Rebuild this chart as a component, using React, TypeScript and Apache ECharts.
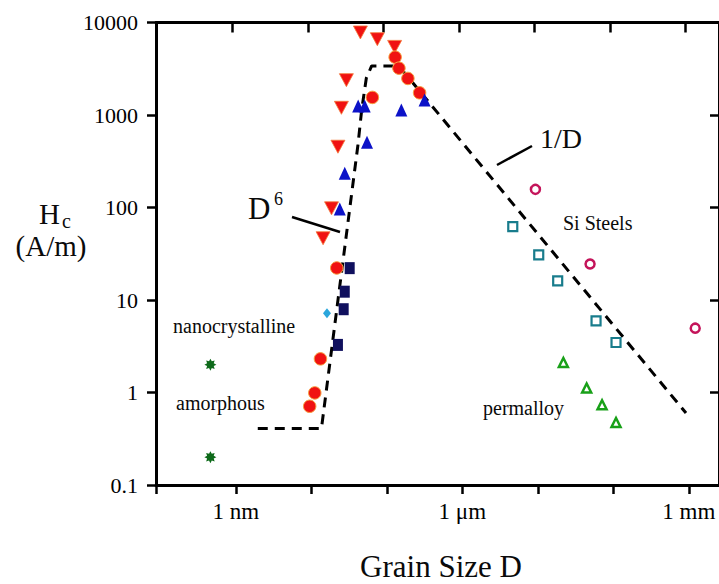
import React, { useEffect, useRef } from "react";
import * as echarts from "echarts";

// ---- axis settings (log10 of grain size in nm, log10 of Hc in A/m) ----
const X_MIN = -1.058;
const X_MAX = 6.4;
const X_TICKS = [0, 1, 2, 3, 4, 5, 6];
const X_LABEL_VALUES = [0, 3, 6];
const X_TICK_LABELS = ["1 nm", "1 \u03bcm", "1 mm"];
const Y_TICK_LABELS = ["0.1", "1", "10", "100", "1000", "10000"];

// ---- data (grain size in nm, Hc in A/m) ----
const dashX = [1.95, 13.6, 41.4, 46.4, 53.5, 62.9, 144.3, 918000];
const dashY = [0.408, 0.408, 474, 1132, 2512, 3390, 3390, 0.6];

const redTriX = [44.6, 74.8, 126.8, 29.1, 25.0, 22.5, 18.5, 14.3];
const redTriY = [7800, 6600, 5450, 2380, 1196, 454, 98, 46.5];

const redCircX = [64.3, 128.8, 144.5, 190, 271.5, 21.7, 13.2, 11.1, 9.5];
const redCircY = [1549, 4220, 3210, 2485, 1737, 22.2, 2.31, 0.99, 0.71];

const blueTriX = [41.7, 50.9, 155.6, 316, 54.6, 27.7, 23.8];
const blueTriY = [1250, 1250, 1130, 1449, 506, 234, 96.4];

const navySqX = [32.2, 27.7, 26.8, 22.5];
const navySqY = [22.1, 12.3, 7.95, 3.27];

const cyanDiaX = [16.1];
const cyanDiaY = [7.2];

const siSteelSqX = [4656, 10280, 18330, 59050, 108600];
const siSteelSqY = [62, 30.7, 16.1, 5.95, 3.47];

const siSteelCircX = [9290, 49200, 1216000];
const siSteelCircY = [157, 24.5, 4.96];

const permalloyX = [21800, 44350, 70950, 108600];
const permalloyY = [2.11, 1.12, 0.736, 0.474];

const amorphousX = [0.46, 0.46];
const amorphousY = [2.0, 0.2];

const FONT = "Liberation Serif";
const STAR =
  "path://M5,0L2.77,1.15L3.54,3.54L1.15,2.77L0,5L-1.15,2.77L-3.54,3.54L-2.77,1.15L-5,0L-2.77,-1.15L-3.54,-3.54L-1.15,-2.77L0,-5L1.15,-2.77L3.54,-3.54L2.77,-1.15Z";

const toPts = (xs: number[], ys: number[]) =>
  xs.map((x, i) => [Math.log10(x), Math.log10(ys[i])]);

const scatter = (data: number[][], symbol: string, size: any, itemStyle: any, extra: any = {}) => ({
  type: "scatter",
  data,
  symbol,
  symbolSize: size,
  itemStyle: { opacity: 1, ...itemStyle },
  xAxisIndex: 0,
  yAxisIndex: 0,
  ...extra,
});

const txt = (text: string, x: number, y: number, fontSize: number, align = "left") => ({
  type: "text",
  x,
  y,
  style: {
    text,
    fontSize,
    fontFamily: FONT,
    fill: "#0a0a0a",
    align,
    verticalAlign: "middle",
  },
});

export default function App() {
  const ref = useRef<HTMLDivElement>(null);
  useEffect(() => {
    if (!ref.current) return;
    const chart = echarts.init(ref.current, null, { renderer: "svg" });
    const axisLine = { show: true, onZero: false, lineStyle: { color: "#000", width: 3 } };
    const tickStyle = { color: "#000", width: 2.5 };
    const option: any = {
      animation: false,
      backgroundColor: "#fff",
      grid: { left: 156, top: 22.5, width: 564, height: 462.5, containLabel: false },
      xAxis: [
        {
          type: "value",
          position: "bottom",
          min: X_MIN,
          max: X_MAX,
          axisLine,
          axisTick: { show: true, length: 9, customValues: [X_MIN, ...X_TICKS], lineStyle: tickStyle },
          axisLabel: {
            customValues: X_LABEL_VALUES,
            formatter: (v: number) => X_TICK_LABELS[X_LABEL_VALUES.indexOf(Math.round(v))] ?? "",
            fontSize: 23,
            fontFamily: FONT,
            color: "#000",
            margin: 15,
          },
          splitLine: { show: false },
        },
        {
          type: "value",
          position: "top",
          min: X_MIN + 0.046,
          max: X_MAX + 0.046,
          axisLine,
          axisTick: { show: true, inside: true, length: 10, customValues: X_TICKS, lineStyle: tickStyle },
          axisLabel: { show: false },
          splitLine: { show: false },
        },
      ],
      yAxis: [
        {
          type: "value",
          position: "left",
          min: -1,
          max: 4,
          interval: 1,
          axisLine,
          axisTick: { show: true, length: 9, lineStyle: tickStyle },
          axisLabel: {
            formatter: (v: number) => Y_TICK_LABELS[Math.round(v) + 1] ?? "",
            fontSize: 22,
            fontFamily: FONT,
            color: "#000",
            margin: 18,
          },
          splitLine: { show: false },
        },
        {
          type: "value",
          position: "right",
          min: -1,
          max: 4,
          interval: 1,
          axisLine,
          axisTick: { show: true, inside: true, length: 9, lineStyle: tickStyle },
          axisLabel: { show: false },
          splitLine: { show: false },
        },
      ],
      series: [
        {
          type: "line",
          data: toPts(dashX, dashY),
          symbol: "none",
          lineStyle: { color: "#000", width: 3, type: [10, 7] },
          z: 1,
        },
        scatter(toPts(redTriX, redTriY), "triangle", [14, 13], { color: "#f01212", borderColor: "#f57a3a", borderWidth: 0.8 }, { symbolRotate: 180, z: 2 }),
        scatter(toPts(redCircX, redCircY), "circle", 12.5, { color: "#f01212", borderColor: "#f7a040", borderWidth: 1 }, { z: 3 }),
        scatter(toPts(blueTriX, blueTriY), "triangle", [12, 13], { color: "#0c12c8" }, { z: 4 }),
        scatter(toPts(navySqX, navySqY), "rect", [10, 12], { color: "#10105e" }, { z: 5 }),
        scatter(toPts(cyanDiaX, cyanDiaY), "diamond", [8, 10], { color: "#2aa6dc" }, { z: 5 }),
        scatter(toPts(siSteelSqX, siSteelSqY), "rect", 9, { color: "#fff", borderColor: "#187c8c", borderWidth: 2.2 }, { z: 5 }),
        scatter(toPts(siSteelCircX, siSteelCircY), "circle", 9, { color: "#fff", borderColor: "#c4145a", borderWidth: 2.5 }, { z: 5 }),
        scatter(toPts(permalloyX, permalloyY), "triangle", [9, 9], { color: "#fff", borderColor: "#18a018", borderWidth: 2.5 }, { z: 5 }),
        scatter(toPts(amorphousX, amorphousY), STAR, 12, { color: "#0e6a1a" }, { z: 5 }),
      ],
      graphic: [
        txt("H", 39, 214, 29),
        txt("c", 62, 221, 20),
        txt("(A/m)", 51, 246, 29, "center"),
        txt("D", 248, 208, 31),
        txt("6", 274, 199, 18),
        { type: "line", shape: { x1: 292, y1: 217, x2: 340, y2: 232 }, style: { stroke: "#000", lineWidth: 2.5 } },
        txt("1/D", 561, 138, 28, "center"),
        { type: "line", shape: { x1: 497, y1: 165, x2: 532, y2: 146 }, style: { stroke: "#000", lineWidth: 2.5 } },
        txt("Si Steels", 563, 223, 20),
        txt("nanocrystalline", 173, 326, 20),
        txt("amorphous", 176, 403, 20),
        txt("permalloy", 483, 408, 20),
        txt("Grain Size D", 441, 566, 31, "center"),
      ],
    };
    chart.setOption(option);
    return () => chart.dispose();
  }, []);
  return (
    <div
      ref={ref}
      style={{ position: "absolute", left: 0, top: 0, width: 719, height: 584, overflow: "hidden", background: "#fff" }}
    />
  );
}
